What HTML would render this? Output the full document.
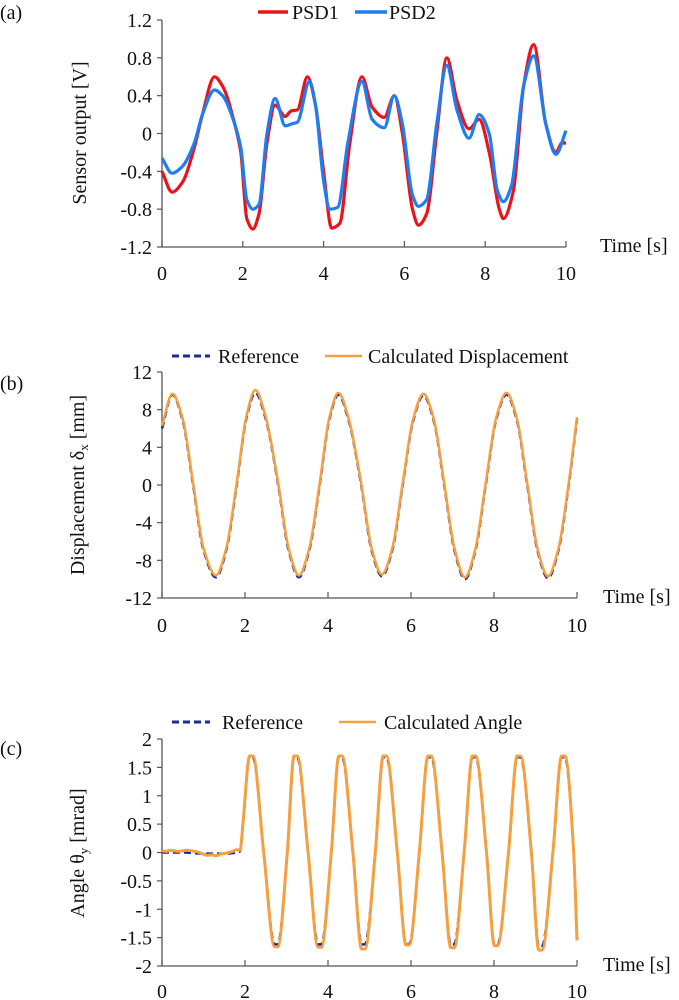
<!DOCTYPE html>
<html><head><meta charset="utf-8"><style>
body{margin:0;background:#fff;}
svg{display:block;font-family:"Liberation Serif",serif;}
</style></head><body>
<svg id="fig" width="679" height="1000" viewBox="0 0 679 1000"></svg>
<script>
// Panel (a) data
const aT1=[0,0.25,0.5,0.8,1.0,1.3,1.5,1.8,1.95,2.1,2.25,2.4,2.6,2.8,3.05,3.2,3.35,3.6,3.8,4.0,4.2,4.4,4.65,4.95,5.2,5.5,5.75,5.95,6.2,6.35,6.55,6.8,7.05,7.3,7.6,7.85,8.1,8.35,8.45,8.7,8.95,9.2,9.5,9.75,9.9,10];
const psd1=[-0.40,-0.62,-0.52,-0.15,0.20,0.60,0.50,0.10,-0.20,-0.90,-1.01,-0.85,-0.10,0.30,0.18,0.24,0.25,0.60,0.30,-0.40,-1.00,-0.95,-0.10,0.60,0.28,0.17,0.40,0.0,-0.80,-0.97,-0.85,0.0,0.80,0.35,0.05,0.15,-0.20,-0.80,-0.90,-0.60,0.50,0.94,0.10,-0.20,-0.10,-0.10];
const aT2=[0,0.25,0.5,0.8,1.0,1.3,1.5,1.8,1.95,2.1,2.25,2.4,2.6,2.8,3.05,3.2,3.35,3.65,3.8,4.0,4.15,4.35,4.6,4.95,5.2,5.5,5.75,5.95,6.2,6.35,6.55,6.8,7.05,7.3,7.6,7.85,8.1,8.3,8.45,8.65,8.95,9.2,9.5,9.75,10];
const psd2=[-0.26,-0.42,-0.35,-0.10,0.20,0.46,0.40,0.10,-0.15,-0.70,-0.80,-0.75,0.0,0.37,0.08,0.10,0.12,0.55,0.30,-0.50,-0.80,-0.78,-0.10,0.55,0.15,0.06,0.40,0.10,-0.65,-0.77,-0.70,0.10,0.72,0.25,-0.05,0.20,0.0,-0.60,-0.72,-0.55,0.50,0.82,0.10,-0.22,0.03];
const aYTicks=["1.2","0.8","0.4","0","-0.4","-0.8","-1.2"];
const xTicks=["0","2","4","6","8","10"];
// Panel (b) data
const bT=[0,0.25,0.5,0.75,1.0,1.3,1.55,1.8,2.03,2.25,2.5,2.8,3.05,3.3,3.55,3.8,4.03,4.25,4.5,4.8,5.05,5.3,5.55,5.8,6.05,6.3,6.55,6.8,7.05,7.3,7.55,7.8,8.05,8.3,8.55,8.8,9.05,9.3,9.55,9.8,10];
const bRef=[6.0,9.6,6.8,0,-6.9,-9.8,-6.9,0,7.0,9.8,7.0,0,-6.9,-9.8,-6.9,0,6.9,9.6,6.8,0,-6.9,-9.7,-6.9,0,6.8,9.5,6.8,0,-7.0,-10.0,-7.0,0,6.9,9.6,6.9,0,-7.0,-9.9,-7.0,0,7.0];
const bCalc=[6.3,9.7,7.0,0.2,-6.7,-9.6,-6.7,0.2,7.2,10.1,7.2,0.2,-6.7,-9.6,-6.7,0.2,7.1,9.8,7.0,0.2,-6.7,-9.5,-6.7,0.2,7.0,9.7,7.0,0.2,-6.8,-9.8,-6.8,0.2,7.1,9.8,7.1,0.2,-6.8,-9.7,-6.8,0.2,7.2];
const bYTicks=["12","8","4","0","-4","-8","-12"];
// Panel (c) data
const cT=[0,0.5,1.0,1.5,1.88,1.95,2.11,2.19,2.45,2.71,2.79,3.02,3.18,3.26,3.52,3.76,3.84,4.08,4.26,4.34,4.6,4.81,4.89,5.14,5.33,5.41,5.67,5.88,5.96,6.2,6.41,6.49,6.75,6.96,7.04,7.28,7.48,7.56,7.82,8.01,8.09,8.35,8.56,8.64,8.9,9.08,9.16,9.42,9.63,9.71,9.92,10];
const cRef=[0,0,-0.02,-0.02,0.02,0.5,1.68,1.68,0,-1.62,-1.62,0,1.68,1.68,0,-1.62,-1.62,0,1.68,1.68,0,-1.62,-1.62,0,1.68,1.68,0,-1.62,-1.62,0,1.68,1.68,0,-1.62,-1.62,0,1.68,1.68,0,-1.62,-1.62,0,1.68,1.68,0,-1.65,-1.65,0,1.68,1.68,0,-1.55];
const cCalcT=[0,0.1,0.2,0.3,0.4,0.5,0.6,0.7,0.8,0.9,1.0,1.1,1.2,1.3,1.4,1.5,1.6,1.7,1.8,1.88,1.95,2.11,2.19,2.45,2.71,2.79,3.02,3.18,3.26,3.52,3.76,3.84,4.08,4.26,4.34,4.6,4.81,4.89,5.14,5.33,5.41,5.67,5.88,5.96,6.2,6.41,6.49,6.75,6.96,7.04,7.28,7.48,7.56,7.82,8.01,8.09,8.35,8.56,8.64,8.9,9.08,9.16,9.42,9.63,9.71,9.92,10];
const cCalc=[0.03,0.02,0.04,0.03,0.02,0.03,0.04,0.03,0.02,0.0,-0.03,-0.05,-0.04,-0.06,-0.03,-0.02,0.0,0.02,0.05,0.04,0.5,1.7,1.7,0,-1.66,-1.66,0,1.7,1.7,0,-1.67,-1.67,0,1.7,1.7,0,-1.7,-1.7,0,1.7,1.7,0,-1.63,-1.63,0,1.7,1.7,0,-1.68,-1.68,0,1.7,1.7,0,-1.64,-1.64,0,1.7,1.7,0,-1.72,-1.72,0,1.7,1.7,0,-1.55];
const cYTicks=["2","1.5","1","0.5","0","-0.5","-1","-1.5","-2"];

const NS="http://www.w3.org/2000/svg";
const svg=document.getElementById('fig');
function mk(tag,attrs,parent,txt){const e=document.createElementNS(NS,tag);for(const k in attrs)e.setAttribute(k,attrs[k]);if(txt!==undefined)e.textContent=txt;(parent||svg).appendChild(e);return e;}
// monotone cubic (Fritsch-Carlson) path, no overshoot
function smooth(p){const n=p.length;const dx=[],s=[],m=[];
 for(let i=0;i<n-1;i++){dx[i]=p[i+1][0]-p[i][0];s[i]=(p[i+1][1]-p[i][1])/dx[i];}
 m[0]=s[0];m[n-1]=s[n-2];
 for(let i=1;i<n-1;i++){if(s[i-1]*s[i]<=0)m[i]=0;else{const w1=2*dx[i]+dx[i-1],w2=dx[i]+2*dx[i-1];m[i]=(w1+w2)/(w1/s[i-1]+w2/s[i]);}}
 let d="M"+p[0][0].toFixed(1)+","+p[0][1].toFixed(1);
 for(let i=0;i<n-1;i++){const h=dx[i]/3;
  d+="C"+(p[i][0]+h).toFixed(1)+","+(p[i][1]+m[i]*h).toFixed(1)+" "+(p[i+1][0]-h).toFixed(1)+","+(p[i+1][1]-m[i+1]*h).toFixed(1)+" "+p[i+1][0].toFixed(1)+","+p[i+1][1].toFixed(1);}
 return d;}

function panel(o){
 const g=mk('g',{});
 
 
 const sx=t=>o.x0+(o.x1-o.x0)*t/10;
 const sy=v=>o.yb-(o.yb-o.yt)*(v-o.vmin)/(o.vmax-o.vmin);
 const ax=mk('path',{d:`M${o.x0},${o.yt}V${o.yb}H${o.x1}`,fill:'none',stroke:'#555','stroke-width':1.3},g);
 
 
 const n=o.yTicks.length;
 o.yTicks.forEach((lab,i)=>{const v=o.vmax-(o.vmax-o.vmin)*i/(n-1);const y=sy(v);
  mk('line',{x1:o.x0-5,x2:o.x0,y1:y,y2:y,stroke:'#555','stroke-width':1.2},g);
  const t=mk('text',{x:o.x0-10,y:y+7,'text-anchor':'end','font-size':20,fill:'#111'},g,lab);
  
  });
 xTicks.forEach((lab,i)=>{const x=sx(i*2);
  mk('line',{x1:x,x2:x,y1:o.yb-6,y2:o.yb,stroke:'#555','stroke-width':1.2},g);
  const t=mk('text',{x:x,y:o.xly,'text-anchor':'middle','font-size':20,fill:'#111'},g,lab);
  
  });
 const tt=mk('text',{x:o.timeX,y:o.yb+5,'font-size':20,fill:'#111'},g,'Time [s]');
 
 
 o.series.forEach(s=>{const pts=s.t.map((t,i)=>[sx(t),sy(s.v[i])]);
  const p=mk('path',{d:smooth(pts),fill:'none',stroke:s.color,'stroke-width':s.w,'stroke-dasharray':s.dash||'none','stroke-linejoin':'round'},g);
  
  });
 return g;
}
panel({name:'panel-a',x0:162,x1:566,yt:20,yb:247,vmin:-1.2,vmax:1.2,yTicks:aYTicks,xly:280,timeX:600,
 series:[{name:'psd1-line',t:aT1,v:psd1,color:'#e8141c',w:3.2},{name:'psd2-line',t:aT2,v:psd2,color:'#1e7ef0',w:3.2}]});
panel({name:'panel-b',x0:162,x1:577,yt:372,yb:598,vmin:-12,vmax:12,yTicks:bYTicks,xly:632,timeX:603,
 series:[{name:'reference-line',t:bT,v:bRef,color:'#1b2a9a',w:2.5,dash:'7,4'},{name:'calculated-displacement-line',t:bT,v:bCalc,color:'#f5a040',w:2.5}]});
panel({name:'panel-c',x0:162,x1:577,yt:739,yb:966,vmin:-2,vmax:2,yTicks:cYTicks,xly:998,timeX:603,
 series:[{name:'reference-line',t:cT,v:cRef,color:'#1b2a9a',w:2.5,dash:'7,4'},{name:'calculated-angle-line',t:cCalcT,v:cCalc,color:'#f5a040',w:3}]});

function label(x,y,txt,name,extra){const t=mk('text',Object.assign({x:x,y:y,'font-size':20,fill:'#111'},extra||{}),svg,txt);
 
 return t;}
label(0,19,'(a)','panel-a-label');
label(0,390,'(b)','panel-b-label');
label(0,755,'(c)','panel-c-label');
label(0,0,'Sensor output [V]','y-axis-title-a',{transform:'translate(86,133) rotate(-90)','text-anchor':'middle'});
const tb=label(0,0,'','y-axis-title-b',{transform:'translate(84,485) rotate(-90)','text-anchor':'middle'});
tb.innerHTML='Displacement δ<tspan font-size="13" dy="4">x</tspan><tspan dy="-4"> [mm]</tspan>';
const tc=label(0,0,'','y-axis-title-c',{transform:'translate(84,853) rotate(-90)','text-anchor':'middle'});
tc.innerHTML='Angle θ<tspan font-size="13" dy="4">y</tspan><tspan dy="-4"> [mrad]</tspan>';

function legend(x1,x2,y,color,dash,w,txt,tx,name){
 const l=mk('line',{x1:x1,x2:x2,y1:y,y2:y,stroke:color,'stroke-width':w,'stroke-dasharray':dash||'none'});
 
 
 label(tx,y+7,txt,name);}
legend(258,288,12,'#e8141c',null,3.5,'PSD1',292,'legend-psd1');
legend(355,387,12,'#1e7ef0',null,3.5,'PSD2',389,'legend-psd2');
legend(172,210,356,'#1b2a9a','7,4',3,'Reference',218,'legend-reference-b');
legend(325,362,356,'#f5a040',null,2.5,'Calculated Displacement',368,'legend-calculated-displacement');
legend(172,210,722,'#1b2a9a','7,4',3,'Reference',222,'legend-reference-c');
legend(339,376,722,'#f5a040',null,2.5,'Calculated Angle',384,'legend-calculated-angle');
</script>
</body></html>
